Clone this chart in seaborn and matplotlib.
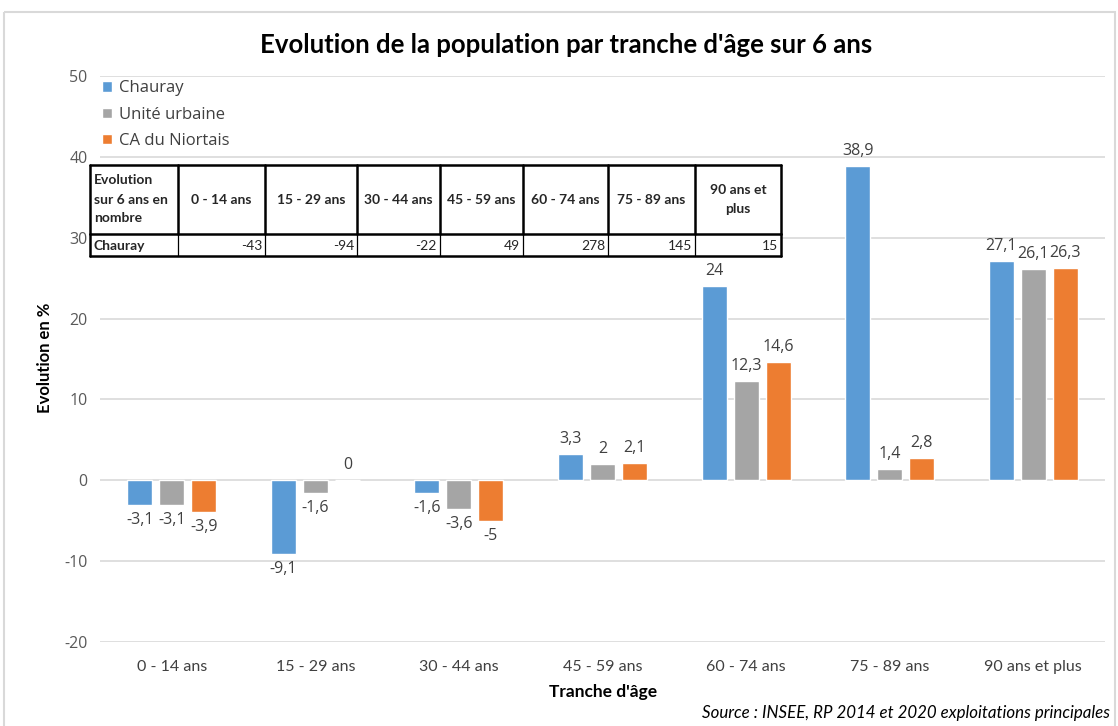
import matplotlib
matplotlib.use("Agg")
import matplotlib.pyplot as plt
import seaborn as sns
import pandas as pd
from matplotlib.patches import Rectangle

# ---------------- data ----------------
categories = ["0 - 14 ans", "15 - 29 ans", "30 - 44 ans", "45 - 59 ans",
              "60 - 74 ans", "75 - 89 ans", "90 ans et plus"]
series_names = ["Chauray", "Unité urbaine", "CA du Niortais"]
chauray = [-3.1, -9.1, -1.6, 3.3, 24, 38.9, 27.1]
unite_urbaine = [-3.1, -1.6, -3.6, 2, 12.3, 1.4, 26.1]
ca_niortais = [-3.9, 0, -5, 2.1, 14.6, 2.8, 26.3]
colors = ["#5B9BD5", "#A5A5A5", "#ED7D31"]

yticks = [-20, -10, 0, 10, 20, 30, 40, 50]

table_corner = "Evolution\nsur 6 ans en\nnombre"
table_headers = ["0 - 14 ans", "15 - 29 ans", "30 - 44 ans", "45 - 59 ans",
                 "60 - 74 ans", "75 - 89 ans", "90 ans et\nplus"]
table_row_label = "Chauray"
table_values = [-43, -94, -22, 49, 278, 145, 15]

title = "Evolution de la population par tranche d'âge sur 6 ans"
ylabel = "Evolution en %"
xlabel = "Tranche d'âge"
source = "Source : INSEE, RP 2014 et 2020 exploitations principales"

# ---------------- style ----------------
sns.set_style("white")
plt.rcParams["font.family"] = ["Open Sans", "DejaVu Sans"]
plt.rcParams["axes.unicode_minus"] = False
NARROW = ["Lato", "DejaVu Sans"]
NUM = ["Open Sans", "DejaVu Sans"]

df = pd.DataFrame({
    "cat": categories * 3,
    "serie": [series_names[0]] * 7 + [series_names[1]] * 7 + [series_names[2]] * 7,
    "val": chauray + unite_urbaine + ca_niortais,
})

W, H = 1118, 726
fig = plt.figure(figsize=(W / 100, H / 100), dpi=100)
ax = fig.add_axes([100 / W, 1 - 642 / H, 1005 / W, 566 / H])

sns.barplot(data=df, x="cat", y="val", hue="serie", order=categories,
            hue_order=series_names, palette=colors, errorbar=None,
            width=0.67, gap=0.22, saturation=1, ax=ax, zorder=2)

ax.set_ylim(-20, 50)
ax.set_xlim(-0.5, len(categories) - 0.5)
ax.set_yticks(yticks)
ax.set_yticklabels([str(t) for t in yticks], fontsize=11.5, color="#595959",
                   family=NUM)
ax.tick_params(axis="y", length=0, pad=9)
ax.tick_params(axis="x", length=0, pad=13)
for lab in ax.get_xticklabels():
    lab.set_family(NARROW)
    lab.set_fontsize(11.5)
    lab.set_color("#404040")
ax.grid(axis="y", color="#D9D9D9", linewidth=1.2, zorder=0)
ax.set_axisbelow(True)
for s in ax.spines.values():
    s.set_visible(False)
ax.set_xlabel("")
ax.set_ylabel("")


def fmt(v):
    return f"{v:g}".replace(".", ",")


for cont in ax.containers:
    ax.bar_label(cont, labels=[fmt(v) for v in cont.datavalues], padding=5,
                 fontsize=11.5, color="#404040", family=NUM)

leg = ax.legend(loc="upper left", bbox_to_anchor=(-0.008, 1.01), frameon=False,
                fontsize=12, handlelength=0.6, handleheight=0.6,
                handletextpad=0.4, labelspacing=0.62, borderaxespad=0.2)
for t in leg.get_texts():
    t.set_color("#404040")
    t.set_family(NUM)

fig.text(566 / W, 1 - 45 / H, title, ha="center", va="center",
         fontsize=18.5, fontweight="bold", family=NARROW, color="#000000")
fig.text(45 / W, 1 - 358 / H, ylabel, ha="center", va="center", rotation=90,
         fontsize=12, fontweight="bold", family=NARROW, color="#000000")
fig.text(603 / W, 1 - 692 / H, xlabel, ha="center", va="center",
         fontsize=12.5, fontweight="bold", family=NARROW, color="#000000")
fig.text(1110 / W, 1 - 713 / H, source, ha="right", va="center",
         fontsize=12.2, style="italic", family=NARROW, color="#000000")

# ---------------- overlay: border and table ----------------
ov = fig.add_axes([0, 0, 1, 1], zorder=5)
ov.set_xlim(0, W)
ov.set_ylim(H, 0)
ov.axis("off")
ov.patch.set_alpha(0)
ov.add_patch(Rectangle((4, 12), W - 7, H + 10, fill=False,
                       edgecolor="#D9D9D9", linewidth=1.5))

xs = [90, 178, 265, 357, 440, 523, 608, 695, 781]
ys = [165, 234, 256]
ov.add_patch(Rectangle((xs[0], ys[0]), xs[-1] - xs[0], ys[-1] - ys[0],
                       facecolor="white", edgecolor="none"))
for x in xs:
    ov.plot([x, x], [ys[0], ys[1]], color="black", lw=1.8)
for x in xs[1:-1]:
    ov.plot([x, x], [ys[1], ys[2]], color="black", lw=0.9)
for x in (xs[0], xs[-1]):
    ov.plot([x, x], [ys[1], ys[2]], color="black", lw=1.8)
for y in ys:
    ov.plot([xs[0], xs[-1]], [y, y], color="black", lw=1.8)

ov.text(xs[0] + 4, (ys[0] + ys[1]) / 2, table_corner, ha="left", va="center",
        fontsize=10, fontweight="bold", family=NARROW, linespacing=1.7)
for i, h in enumerate(table_headers):
    ov.text((xs[i + 1] + xs[i + 2]) / 2, (ys[0] + ys[1]) / 2, h, ha="center",
            va="center", fontsize=10, fontweight="bold", family=NARROW,
            linespacing=1.7)
ov.text(xs[0] + 4, (ys[1] + ys[2]) / 2 + 1, table_row_label, ha="left",
        va="center", fontsize=10, fontweight="bold", family=NARROW)
for i, v in enumerate(table_values):
    ov.text(xs[i + 2] - 3, (ys[1] + ys[2]) / 2 + 1, str(v), ha="right",
            va="center", fontsize=10, family=NARROW)

fig.savefig("out.png", dpi=100)
